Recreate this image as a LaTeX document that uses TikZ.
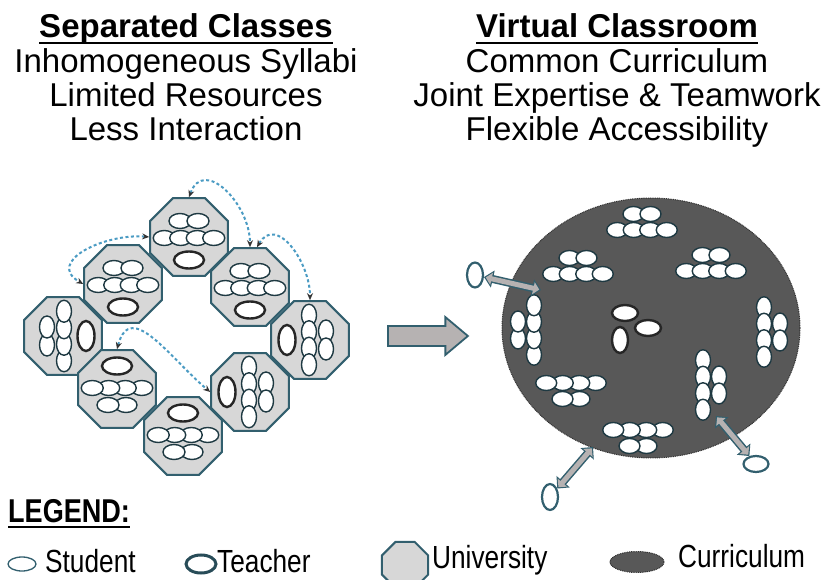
\documentclass[tikz,border=0pt]{standalone}
\usepackage{fontspec}
\setmainfont{Liberation Sans}
\newfontfamily\narrowfont[FakeStretch=0.82]{Liberation Sans}
\usetikzlibrary{arrows.meta, calc, positioning, shapes.geometric, shapes.arrows}
\definecolor{rimcol}{RGB}{50,95,110}
\definecolor{linkcol}{RGB}{75,155,195}
\definecolor{unifill}{RGB}{215,215,215}
\definecolor{currfill}{RGB}{88,88,88}
\definecolor{arrfill}{RGB}{182,178,178}
\newcommand{\ulin}[1]{\setbox0\hbox{#1}\rlap{\rule[-6pt]{\wd0}{2.2pt}}\box0}
\newcommand{\duplex}[2]{%
    \draw[line width=8pt, draw=rimcol, {Triangle[width=17pt,length=9pt]}-{Triangle[width=17pt,length=9pt]}] (#1) -- (#2);
    \draw[line width=5pt, draw=arrfill, shorten <=1.8pt, shorten >=1.8pt, {Triangle[width=12pt,length=6pt]}-{Triangle[width=12pt,length=6pt]}] (#1) -- (#2);
}
\tikzset{
    head/.style={font=\fontsize{33}{35}\selectfont, anchor=base, inner sep=0pt},
    legtext/.style={font=\narrowfont\fontsize{32}{34}\selectfont, anchor=base west, inner sep=0pt},
    uni/.style={regular polygon, regular polygon sides=8, minimum size=84pt, inner sep=0pt,
        draw=rimcol, line width=2pt, fill=unifill},
    curr/.style={ellipse, inner sep=0pt, fill=currfill, draw=black!80, line width=1pt,
        dash pattern=on 1pt off 0.8pt},
    stu/.style={draw=rimcol!60!black, line width=1.4pt, fill=white},
    tea/.style={draw=black!85, line width=2.4pt, fill=white},
    outtea/.style={ellipse, inner sep=0pt, draw=rimcol, line width=2.2pt, fill=white},
    link/.style={draw=linkcol, line width=2pt, dash pattern=on 3pt off 2.5pt,
        {Stealth[length=7pt,width=6pt,color=black!80]}-{Stealth[length=7pt,width=6pt,color=black!80]}},
    movearrow/.style={single arrow, draw=rimcol, fill=arrfill, line width=1.8pt, inner sep=9pt,
        minimum height=80pt, single arrow head extend=9pt, single arrow tip angle=80},
    pics/studs/.style={code={
        \foreach \i in {-0.5,0.5}
            \draw[stu] (\i*17,8) ellipse [x radius=10.5pt, y radius=7.5pt];
        \foreach \i in {-1.5,-0.5,0.5,1.5}
            \draw[stu] (\i*16.5,-8) ellipse [x radius=10.5pt, y radius=7.5pt];
    }},
    pics/classroom/.style={code={
        \foreach \i in {-0.5,0.5}
            \draw[stu] (\i*18,16) ellipse [x radius=11pt, y radius=7.5pt];
        \foreach \i in {-1.5,-0.5,0.5,1.5}
            \draw[stu] (\i*16.5,-1) ellipse [x radius=11pt, y radius=7.5pt];
        \draw[tea] (0,-23) ellipse [x radius=15pt, y radius=8.5pt];
    }}
}
\begin{document}
\begin{tikzpicture}[x=1pt, y=1pt]
    \useasboundingbox (0,-580) rectangle (828,0);
    % headings
    \node[head] (sep) at (186,-38) {\bfseries\ulin{Separated Classes}};
    \node[head] (syl) at (186,-73) {Inhomogeneous Syllabi};
    \node[head] (res) at (186,-107) {Limited Resources};
    \node[head] (less) at (186,-141) {Less Interaction};
    \node[head] (virt) at (617,-38) {\bfseries\ulin{Virtual Classroom}};
    \node[head] (cur) at (617,-73) {Common Curriculum};
    \node[head] (joint) at (617,-107) {Joint Expertise \& Teamwork};
    \node[head] (flex) at (617,-141) {Flexible Accessibility};

    % separated classes
    \node[uni] (top) at (189,-237) {};
    \pic at (top) {classroom};
    \node[uni] (ul) at (123,-284) {};
    \pic at (ul) {classroom};
    \node[uni] (ur) at (250,-287) {};
    \pic at (ur) {classroom};
    \node[uni] (lft) at (63,-336) {};
    \pic[rotate=90] at (lft) {classroom};
    \node[uni] (rgt) at (310,-340) {};
    \pic[rotate=-90] at (rgt) {classroom};
    \node[uni] (ll) at (117,-389) {};
    \pic[rotate=180] at (ll) {classroom};
    \node[uni] (lr) at (250,-392) {};
    \pic[rotate=-90] at (lr) {classroom};
    \node[uni] (bot) at (183,-436) {};
    \pic[rotate=180] at (bot) {classroom};
    \draw[link] (top.west) to[out=175, in=150, looseness=1.4] (ul.west);
    \draw[link] (top.north) to[out=70, in=90, looseness=1.4] (ur.north);
    \draw[link] ($(ur.north)+(7,0)$) to[out=60, in=90, looseness=1.3] (rgt.north);
    \draw[link] (ll.north) to[out=75, in=140, looseness=1.3] (lr.west);

    \node[movearrow] (move) at (422,-336) {};

    % virtual classroom
    \node[curr, minimum width=298pt, minimum height=260pt] (pool) at (651,-328) {};
    \pic at (642,-222) {studs};
    \pic at (578,-266) {studs};
    \pic at (711,-263) {studs};
    \pic[rotate=90] at (526,-330) {studs};
    \pic[rotate=-90] at (772,-332) {studs};
    \pic[rotate=-90] at (711,-385) {studs};
    \pic[rotate=180] at (571,-391) {studs};
    \pic[rotate=180] at (638,-438) {studs};
    \draw[tea] (625,-313) ellipse [x radius=13pt, y radius=8pt];
    \draw[tea] (648,-328) ellipse [x radius=13pt, y radius=8pt];
    \draw[tea] (620,-340) ellipse [x radius=8pt, y radius=13pt];

    \node[outtea, minimum width=16pt, minimum height=25pt] (t1) at (475,-275) {};
    \node[outtea, minimum width=16pt, minimum height=26pt] (t2) at (550,-497) {};
    \node[outtea, minimum width=25pt, minimum height=16pt] (t3) at (756,-464) {};
    \coordinate (j1) at (541,-290);
    \coordinate (j2) at (593,-447);
    \coordinate (j3) at (716,-416);
    \duplex{t1}{j1}
    \duplex{t2}{j2}
    \duplex{t3}{j3}

    % legend
    \node[legtext, font=\narrowfont\bfseries\fontsize{33}{35}\selectfont] (legend) at (8,-522) {\ulin{LEGEND:}};
    \node[ellipse, inner sep=0pt, draw=rimcol, line width=1.3pt, minimum width=28pt, minimum height=14pt] (lstu) at (22,-564) {};
    \node[legtext] (lstut) at (45,-572) {Student};
    \node[ellipse, inner sep=0pt, draw=rimcol!80!black, line width=3pt, minimum width=30pt, minimum height=18pt] (ltea) at (201,-564) {};
    \node[legtext] (lteat) at (217,-572) {Teacher};
    \node[uni, minimum size=50pt] (luni) at (405,-565) {};
    \node[legtext] (lunit) at (432,-568) {University};
    \node[curr, minimum width=54pt, minimum height=21pt] (lcur) at (637,-562) {};
    \node[legtext] (lcurt) at (678,-567) {Curriculum};
\end{tikzpicture}
\end{document}
